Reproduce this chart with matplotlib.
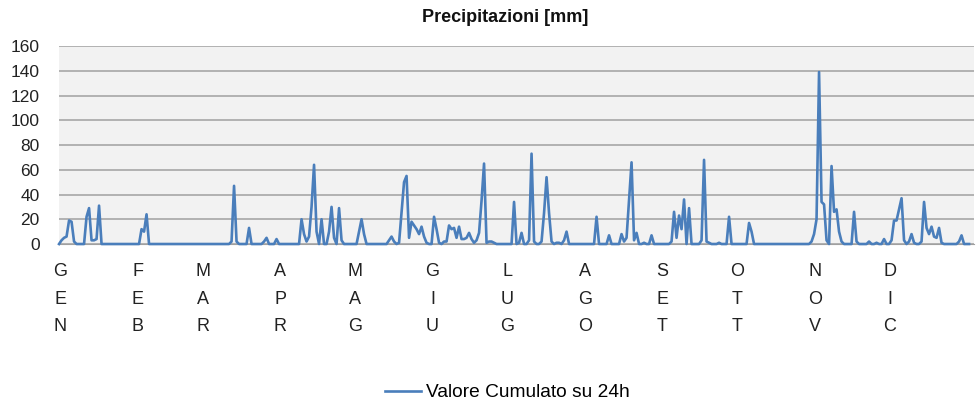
import numpy as np
import matplotlib.pyplot as plt

# daily rainfall [mm], one list per month
gen = [0, 3, 5, 6, 19, 18, 2, 0, 0, 0,
       0, 22, 29, 3, 3, 4, 31, 0, 0, 0,
       0, 0, 0, 0, 0, 0, 0, 0, 0, 0,
       0]
feb = [0, 0, 12, 10, 24, 0, 0, 0, 0, 0,
       0, 0, 0, 0, 0, 0, 0, 0, 0, 0,
       0, 0, 0, 0, 0, 0, 0, 0]
mar = [0, 0, 0, 0, 0, 0, 0, 0, 0, 0,
       2, 47, 2, 0, 0, 0, 0, 13, 0, 0,
       0, 0, 0, 2, 5, 0, 0, 0, 4, 0,
       0]
apr = [0, 0, 0, 0, 0, 0, 0, 20, 8, 2,
       6, 30, 64, 10, 0, 20, 0, 0, 10, 30,
       5, 0, 29, 3, 0, 0, 0, 0, 0, 0]
mag = [10, 20, 8, 0, 0, 0, 0, 0, 0, 0,
       0, 0, 3, 6, 2, 0, 1, 25, 50, 55,
       5, 18, 15, 12, 8, 14, 6, 1, 0, 0,
       22]
giu = [12, 1, 0, 2, 2, 15, 12, 13, 5, 14,
       4, 4, 5, 9, 4, 1, 3, 9, 35, 65,
       1, 2, 2, 1, 0, 0, 0, 0, 0, 0]
lug = [0, 34, 0, 1, 9, 0, 0, 3, 73, 2,
       0, 0, 2, 25, 54, 25, 2, 0, 1, 1,
       0, 3, 10, 0, 0, 0, 0, 0, 0, 0,
       0]
ago = [0, 0, 0, 22, 0, 0, 0, 0, 7, 0,
       0, 0, 0, 8, 2, 5, 35, 66, 3, 9,
       0, 0, 1, 0, 0, 7, 0, 0, 0, 0,
       0]
set_ = [0, 0, 2, 26, 5, 23, 12, 36, 0, 29,
        0, 0, 0, 0, 3, 68, 2, 1, 0, 0,
        0, 1, 0, 0, 0, 22, 0, 0, 0, 0]
ott = [0, 0, 0, 17, 10, 0, 0, 0, 0, 0,
       0, 0, 0, 0, 0, 0, 0, 0, 0, 0,
       0, 0, 0, 0, 0, 0, 0, 0, 2, 8,
       20]
nov = [139, 34, 32, 3, 0, 63, 26, 28, 10, 2,
       0, 0, 0, 0, 26, 2, 0, 0, 0, 0,
       2, 0, 0, 1, 0, 0, 4, 0, 0, 3]
dic = [19, 19, 28, 37, 3, 0, 2, 8, 1, 0,
       0, 2, 34, 13, 8, 14, 6, 5, 13, 1,
       0, 0, 0, 0, 0, 0, 2, 7, 0, 0,
       0]

months = [gen, feb, mar, apr, mag, giu, lug, ago, set_, ott, nov, dic]
month_labels = ['GEN', 'FEB', 'MAR', 'APR', 'MAG', 'GIU',
                'LUG', 'AGO', 'SET', 'OTT', 'NOV', 'DIC']

rain = np.concatenate(months)
days = np.arange(len(rain))
starts = np.cumsum([0] + [len(m) for m in months[:-1]])
# labels sit a little before the 1st of the month from march on
tick_pos = starts + 0.4 - 2.0 * (np.arange(12) >= 2)

plt.rcParams['font.family'] = ['Liberation Sans', 'DejaVu Sans']

fig = plt.figure(figsize=(9.76, 4.09), dpi=100)
ax = fig.add_axes([0.0605, 0.4034, 0.9375, 0.4841])
ax.set_facecolor('#F2F2F2')

ax.plot(days, rain, color='#4A7EBB', lw=1.9, label='Valore Cumulato su 24h',
        clip_on=False, zorder=3)

ax.set_xlim(0, len(rain) + 1)
ax.set_ylim(0, 160)
ax.set_yticks(np.arange(0, 161, 20))
ax.yaxis.grid(True, color='#A0A0A0', lw=1.1)
ax.set_axisbelow(True)

ax.set_xticks(tick_pos)
ax.set_xticklabels(['\n'.join(m) for m in month_labels], linespacing=1.8)
ax.tick_params(axis='x', length=0, pad=14, labelsize=13, colors='#222222')
ax.tick_params(axis='y', length=0, pad=14, labelsize=12.5, colors='#222222')

for s in ['top', 'right', 'left']:
    ax.spines[s].set_visible(False)
ax.spines['bottom'].set_color('#A0A0A0')

fig.text(0.518, 0.957, 'Precipitazioni [mm]', ha='center', va='center',
         fontsize=13, fontweight='bold', color='#111111')

fig.legend(loc='center', bbox_to_anchor=(0.52, 0.04), frameon=False,
           fontsize=13.8, handlelength=1.9, handletextpad=0.25)

fig.savefig('out.png', dpi=100)
